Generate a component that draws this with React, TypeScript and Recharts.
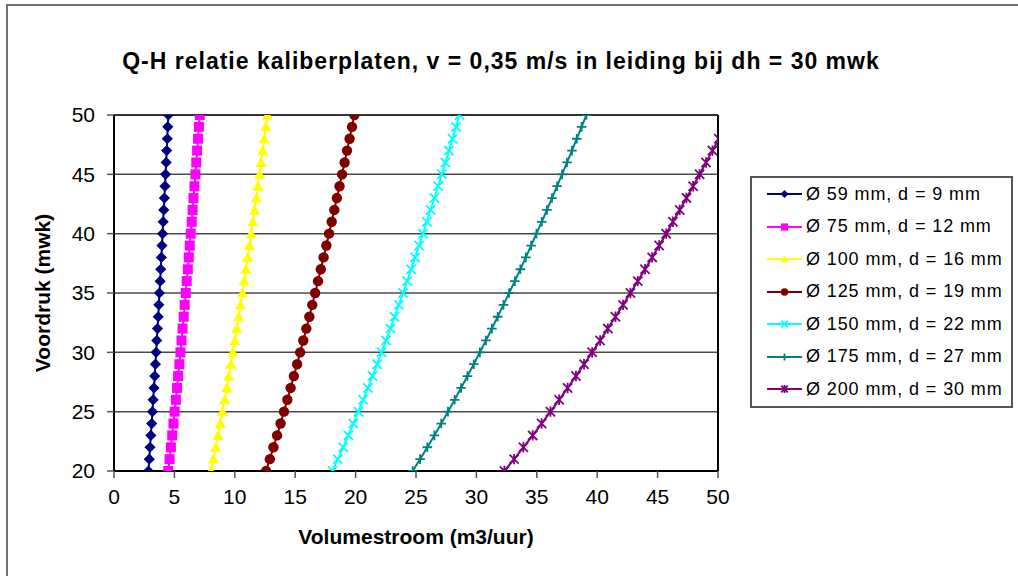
import React from 'react';
import { ScatterChart, Scatter, XAxis, YAxis, CartesianGrid, ReferenceLine, Legend } from 'recharts';

// voordruk (mwk) per meetpunt, gelijk voor alle kaliberplaten
const voordruk = [20, 21, 22, 23, 24, 25, 26, 27, 28, 29, 30, 31, 32, 33, 34, 35, 36, 37, 38, 39, 40, 41, 42, 43, 44, 45, 46, 47, 48, 49, 50];

const q59 = [2.85, 2.92, 2.98, 3.05, 3.12, 3.18, 3.24, 3.31, 3.37, 3.43, 3.49, 3.54, 3.6, 3.66, 3.71, 3.76, 3.82, 3.87, 3.92, 3.97, 4.02, 4.07, 4.12, 4.17, 4.22, 4.27, 4.32, 4.36, 4.41, 4.45, 4.5];
const q75 = [4.49, 4.6, 4.71, 4.82, 4.92, 5.02, 5.12, 5.22, 5.31, 5.41, 5.5, 5.59, 5.68, 5.77, 5.85, 5.94, 6.02, 6.11, 6.19, 6.27, 6.35, 6.43, 6.51, 6.58, 6.66, 6.74, 6.81, 6.88, 6.96, 7.03, 7.1];
const q100 = [8.03, 8.23, 8.42, 8.61, 8.8, 8.98, 9.16, 9.33, 9.5, 9.67, 9.84, 10.0, 10.16, 10.32, 10.47, 10.63, 10.78, 10.92, 11.07, 11.22, 11.36, 11.5, 11.64, 11.78, 11.91, 12.05, 12.18, 12.31, 12.44, 12.57, 12.7];
const q125 = [12.59, 12.9, 13.2, 13.5, 13.79, 14.07, 14.35, 14.62, 14.89, 15.16, 15.41, 15.67, 15.92, 16.17, 16.41, 16.65, 16.89, 17.12, 17.35, 17.58, 17.8, 18.02, 18.24, 18.45, 18.67, 18.88, 19.09, 19.29, 19.5, 19.7, 19.9];
const q150 = [18.09, 18.53, 18.97, 19.4, 19.81, 20.22, 20.62, 21.02, 21.4, 21.78, 22.15, 22.52, 22.88, 23.23, 23.58, 23.93, 24.27, 24.6, 24.93, 25.26, 25.58, 25.9, 26.21, 26.52, 26.83, 27.13, 27.43, 27.73, 28.02, 28.31, 28.6];
const q175 = [24.73, 25.34, 25.94, 26.52, 27.09, 27.65, 28.2, 28.73, 29.26, 29.78, 30.29, 30.79, 31.28, 31.76, 32.24, 32.71, 33.18, 33.64, 34.09, 34.53, 34.97, 35.41, 35.84, 36.26, 36.68, 37.09, 37.5, 37.91, 38.31, 38.71, 39.1];
const q200 = [32.32, 33.12, 33.89, 34.66, 35.4, 36.13, 36.85, 37.55, 38.24, 38.91, 39.58, 40.24, 40.88, 41.51, 42.14, 42.75, 43.36, 43.96, 44.55, 45.13, 45.71, 46.27, 46.83, 47.39, 47.94, 48.48, 49.01, 49.54, 50.07, 50.59, 51.1];

const seriesNames = [
  'Ø 59 mm, d = 9 mm',
  'Ø 75 mm, d = 12 mm',
  'Ø 100 mm, d = 16 mm',
  'Ø 125 mm, d = 19 mm',
  'Ø 150 mm, d = 22 mm',
  'Ø 175 mm, d = 27 mm',
  'Ø 200 mm, d = 30 mm',
];
const seriesValues = [q59, q75, q100, q125, q150, q175, q200];
const seriesColors = ['#000080', '#FF00FF', '#FFFF00', '#800000', '#00FFFF', '#008080', '#800080'];
const markerTypes = ['diamond', 'square', 'triangle', 'circle', 'x', 'plus', 'star'];

const xTicks = [0, 5, 10, 15, 20, 25, 30, 35, 40, 45, 50];
const yTicks = [20, 25, 30, 35, 40, 45, 50];

const FONT = '"Liberation Sans", Arial, sans-serif';

function Marker({ type, cx, cy, color, s = 1 }: { type: string; cx: number; cy: number; color: string; s?: number }) {
  if (cx == null || cy == null) return null;
  switch (type) {
    case 'diamond': {
      const r = 5.6 * s;
      return <polygon points={`${cx},${cy - r} ${cx + r},${cy} ${cx},${cy + r} ${cx - r},${cy}`} fill={color} />;
    }
    case 'square': {
      const r = 5 * s;
      return <rect x={cx - r} y={cy - r} width={2 * r} height={2 * r} fill={color} />;
    }
    case 'triangle': {
      const r = 5.6 * s;
      return <polygon points={`${cx},${cy - r} ${cx + r},${cy + r * 0.8} ${cx - r},${cy + r * 0.8}`} fill={color} />;
    }
    case 'circle':
      return <circle cx={cx} cy={cy} r={5.2 * s} fill={color} />;
    case 'x': {
      const r = 4.6 * s;
      return (
        <path d={`M${cx - r},${cy - r}L${cx + r},${cy + r}M${cx - r},${cy + r}L${cx + r},${cy - r}`} stroke={color} strokeWidth={1.8} fill="none" />
      );
    }
    case 'plus': {
      const r = 4.8 * s;
      return <path d={`M${cx - r},${cy}L${cx + r},${cy}M${cx},${cy - r}L${cx},${cy + r}`} stroke={color} strokeWidth={1.8} fill="none" />;
    }
    case 'star': {
      const r = 4.6 * s;
      return (
        <path
          d={`M${cx - r},${cy - r}L${cx + r},${cy + r}M${cx - r},${cy + r}L${cx + r},${cy - r}M${cx},${cy - r - 0.6}L${cx},${cy + r + 0.6}`}
          stroke={color}
          strokeWidth={1.8}
          fill="none"
        />
      );
    }
    default:
      return null;
  }
}

const renderLegend = () => (
  <div
    style={{
      border: '2px solid #555',
      background: '#fff',
      boxSizing: 'border-box',
      width: 263,
      paddingLeft: 15,
      fontFamily: FONT,
    }}
  >
    {seriesNames.map((name, i) => (
      <div key={name} style={{ height: 32.5, display: 'flex', alignItems: 'center' }}>
        <svg width={35} height={14} style={{ flex: 'none' }}>
          <line x1={0} y1={7} x2={35} y2={7} stroke={seriesColors[i]} strokeWidth={2} />
          <Marker type={markerTypes[i]} cx={17.5} cy={7} color={seriesColors[i]} s={0.72} />
        </svg>
        <span style={{ marginLeft: 4, fontSize: 18, letterSpacing: 0.9, whiteSpace: 'nowrap', color: '#000' }}>{name}</span>
      </div>
    ))}
  </div>
);

const renderYLabel = (props: any) => {
  const vb = props.viewBox || { x: 54, y: 115, width: 60, height: 356 };
  const x = vb.x - 12;
  const y = vb.y + vb.height / 2;
  return (
    <text
      x={x}
      y={y}
      transform={`rotate(-90, ${x}, ${y})`}
      textAnchor="middle"
      dominantBaseline="central"
      fontSize={21}
      fontWeight="bold"
      fontFamily={FONT}
      fill="#000"
    >
      Voordruk (mwk)
    </text>
  );
};

export default function App() {
  const chartData = seriesValues.map(values => voordruk.map((h, i) => ({ q: values[i], h })));

  return (
    <div style={{ position: 'absolute', left: 0, top: 0, width: 1018, height: 576, overflow: 'hidden', background: '#fff', fontFamily: FONT }}>
      <div style={{ position: 'absolute', left: 6, top: 4, width: 1100, height: 700, border: '2px solid #707070' }} />
      <div
        style={{
          position: 'absolute',
          left: 1,
          top: 50,
          width: 1000,
          textAlign: 'center',
          fontSize: 23,
          lineHeight: '23px',
          fontWeight: 'bold',
          letterSpacing: 1,
          color: '#000',
          whiteSpace: 'nowrap',
        }}
      >
        Q-H relatie kaliberplaten, v = 0,35 m/s in leiding bij dh = 30 mwk
      </div>
      <div style={{ position: 'absolute', left: 0, top: 0 }}>
        <ScatterChart width={1018} height={576} margin={{ top: 115, right: 300, bottom: 65, left: 54 }}>
          <CartesianGrid horizontal vertical={false} stroke="#4a4a4a" strokeWidth={1.5} />
          <XAxis
            type="number"
            dataKey="q"
            domain={[0, 50]}
            ticks={xTicks}
            allowDataOverflow
            height={40}
            tickSize={7}
            tickMargin={11}
            axisLine={{ stroke: '#000', strokeWidth: 2 }}
            tickLine={{ stroke: '#555', strokeWidth: 1.5 }}
            tick={{ fill: '#000', fontSize: 21, fontFamily: FONT }}
            label={{ value: 'Volumestroom (m3/uur)', position: 'bottom', offset: 18, fontSize: 21, fontWeight: 'bold', fill: '#000', fontFamily: FONT }}
          />
          <YAxis
            type="number"
            dataKey="h"
            domain={[20, 50]}
            ticks={yTicks}
            allowDataOverflow
            width={60}
            tickSize={7}
            tickMargin={12}
            axisLine={{ stroke: '#000', strokeWidth: 2 }}
            tickLine={{ stroke: '#555', strokeWidth: 1.5 }}
            tick={{ fill: '#000', fontSize: 21, fontFamily: FONT }}
            label={{ content: renderYLabel }}
          />
          <ReferenceLine x={50} stroke="#000" strokeWidth={2} />
          <ReferenceLine y={50} stroke="#333" strokeWidth={2} />
          {chartData.map((data, i) => (
            <Scatter
              key={seriesNames[i]}
              name={seriesNames[i]}
              data={data}
              fill={seriesColors[i]}
              line={{ stroke: seriesColors[i], strokeWidth: 2 }}
              lineType="joint"
              isAnimationActive={false}
              shape={(p: any) => <Marker type={markerTypes[i]} cx={p.cx} cy={p.cy} color={seriesColors[i]} />}
            />
          ))}
          <Legend
            layout="vertical"
            align="center"
            verticalAlign="middle"
            content={renderLegend}
            wrapperStyle={{ left: 750, top: 176, width: 263 }}
          />
        </ScatterChart>
      </div>
    </div>
  );
}
